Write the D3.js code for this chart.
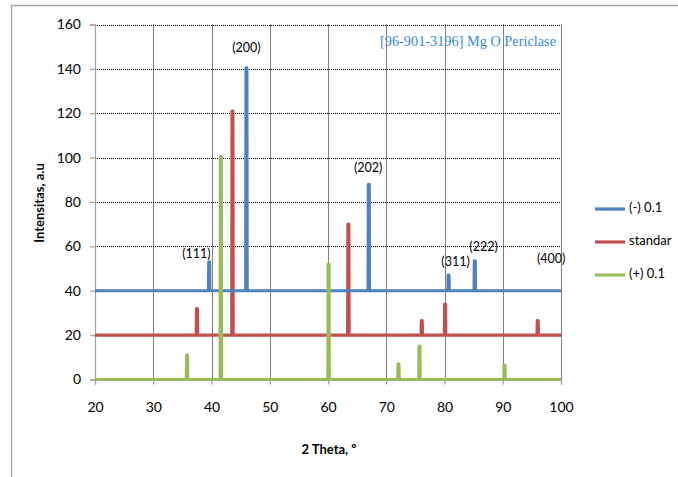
<!DOCTYPE html>
<html>
<head>
<meta charset="utf-8">
<script src="https://cdn.jsdelivr.net/npm/d3@7"></script>
<style>
  html, body { margin: 0; padding: 0; background: #fff; }
  svg { display: block; }
</style>
</head>
<body>
<svg id="chart" width="678" height="477"></svg>
<script>
// ---- data ----
const seriesNames = ["(-) 0.1", "standar", "(+) 0.1"];
const seriesColors = ["#4F81BD", "#C0504D", "#9BBB59"];
const baselines = [40, 20, 0];
// peak positions (2θ) and peak intensities (absolute, a.u)
const minusPeakPos = [39.6, 46.0, 67.0, 80.7, 85.2];
const minusPeakVal = [53, 140.5, 88, 47, 53.5];
const stdPeakPos = [37.5, 43.6, 63.5, 76.1, 80.1, 96.0];
const stdPeakVal = [32, 121, 70, 26.5, 34, 26.5];
const plusPeakPos = [35.8, 41.6, 60.1, 72.1, 75.7, 90.3];
const plusPeakVal = [11, 100.5, 52, 7, 15, 6.5];
const hklLabels = ["(111)", "(200)", "(202)", "(311)", "(222)", "(400)"];
const hklX = [37.4, 46.0, 66.9, 81.9, 86.7, 98.3];
const hklY = [56, 149, 95, 52.5, 59.5, 54];
const xTicks = [20, 30, 40, 50, 60, 70, 80, 90, 100];
const yTicks = [0, 20, 40, 60, 80, 100, 120, 140, 160];
const annotation = "[96-901-3196] Mg O Periclase";

// ---- layout ----
const svg = d3.select("#chart");
const x = d3.scaleLinear().domain([20, 100]).range([95, 561]);
const y = d3.scaleLinear().domain([0, 160]).range([379.5, 24.5]);
const font = "Lato, 'Open Sans', sans-serif";

// outer chart border (partially visible)
svg.append("path")
  .attr("d", "M11.5,477 L11.5,5.5 L678,5.5")
  .attr("fill", "none").attr("stroke", "#a6a6a6").attr("stroke-width", 1.3);

// grid
const grid = svg.append("g");
grid.selectAll("line.h").data(yTicks.filter(d => d > 0)).join("line")
  .attr("x1", x(20)).attr("x2", x(100))
  .attr("y1", d => Math.round(y(d)) + 0.5).attr("y2", d => Math.round(y(d)) + 0.5)
  .attr("stroke", "#000").attr("stroke-width", 1).attr("stroke-dasharray", "1,1");
grid.selectAll("line.v").data(xTicks.filter(d => d > 20)).join("line")
  .attr("x1", d => Math.round(x(d)) + 0.5).attr("x2", d => Math.round(x(d)) + 0.5)
  .attr("y1", y(160)).attr("y2", y(0))
  .attr("stroke", "#000").attr("stroke-width", 1).attr("stroke-dasharray", "1,1");

// axes
const yAxis = d3.axisLeft(y).tickValues(yTicks).tickSize(5).tickPadding(9);
const gy = svg.append("g").attr("transform", `translate(${x(20)},0)`).call(yAxis);
gy.select(".domain").attr("stroke", "#a6a6a6").attr("stroke-width", 1.3);
gy.selectAll(".tick line").attr("stroke", "#a6a6a6").attr("stroke-width", 1.3);
gy.selectAll(".tick text").attr("font-family", font).attr("font-size", 14).attr("fill", "#000");

const xAxis = d3.axisBottom(x).tickValues(xTicks).tickSize(5).tickPadding(18);
const gx = svg.append("g").attr("transform", `translate(0,${y(0)})`).call(xAxis);
gx.select(".domain").attr("stroke", "#a6a6a6").attr("stroke-width", 1.3);
gx.selectAll(".tick line").attr("stroke", "#a6a6a6").attr("stroke-width", 1.3);
gx.selectAll(".tick text").attr("font-family", font).attr("font-size", 14).attr("fill", "#000");

// series
const peaksPos = [minusPeakPos, stdPeakPos, plusPeakPos];
const peaksVal = [minusPeakVal, stdPeakVal, plusPeakVal];
const half = 0.12;
const line = d3.line().x(d => x(d[0])).y(d => y(d[1]));
// draw in order green, red, blue? Reference: blue on top of red, green over red at 41.6
[1, 0, 2].forEach(i => {
  const pts = [[20, baselines[i]]];
  peaksPos[i].forEach((p, k) => {
    pts.push([p - half, baselines[i]]);
    pts.push([p - half * 0.6, peaksVal[i][k]]);
    pts.push([p + half * 0.6, peaksVal[i][k]]);
    pts.push([p + half, baselines[i]]);
  });
  pts.push([100, baselines[i]]);
  svg.append("path").datum(pts)
    .attr("d", line)
    .attr("fill", "none")
    .attr("stroke", seriesColors[i])
    .attr("stroke-width", 3.2)
    .attr("stroke-linejoin", "round");
});

// hkl labels
svg.append("g").selectAll("text").data(hklLabels).join("text")
  .attr("x", (d, i) => x(hklX[i]))
  .attr("y", (d, i) => y(hklY[i]))
  .attr("text-anchor", "middle")
  .attr("dominant-baseline", "middle")
  .attr("font-family", font).attr("font-size", 12.5).attr("fill", "#000")
  .text(d => d);

// annotation
svg.append("text")
  .attr("x", 380).attr("y", 46)
  .attr("font-family", "'Liberation Serif', 'DejaVu Serif', serif")
  .attr("font-size", 15)
  .attr("textLength", 176).attr("lengthAdjust", "spacingAndGlyphs")
  .attr("fill", "#3a8ad4")
  .text(annotation);

// axis titles
svg.append("text")
  .attr("transform", "translate(44,203) rotate(-90)")
  .attr("text-anchor", "middle")
  .attr("font-family", font).attr("font-size", 13).attr("font-weight", "bold")
  .attr("fill", "#000")
  .text("Intensitas, a.u");
svg.append("text")
  .attr("x", 329).attr("y", 454)
  .attr("text-anchor", "middle")
  .attr("font-family", font).attr("font-size", 13).attr("font-weight", "bold")
  .attr("fill", "#000")
  .text("2 Theta, º");

// legend
const legY = [209, 242, 275];
const leg = svg.append("g");
seriesNames.forEach((n, i) => {
  leg.append("line")
    .attr("x1", 595).attr("x2", 625)
    .attr("y1", legY[i]).attr("y2", legY[i])
    .attr("stroke", seriesColors[i]).attr("stroke-width", 3.2);
  leg.append("text")
    .attr("x", 629).attr("y", legY[i])
    .attr("dominant-baseline", "middle")
    .attr("font-family", font).attr("font-size", 13).attr("fill", "#000")
    .text(n);
});
</script>
</body>
</html>
